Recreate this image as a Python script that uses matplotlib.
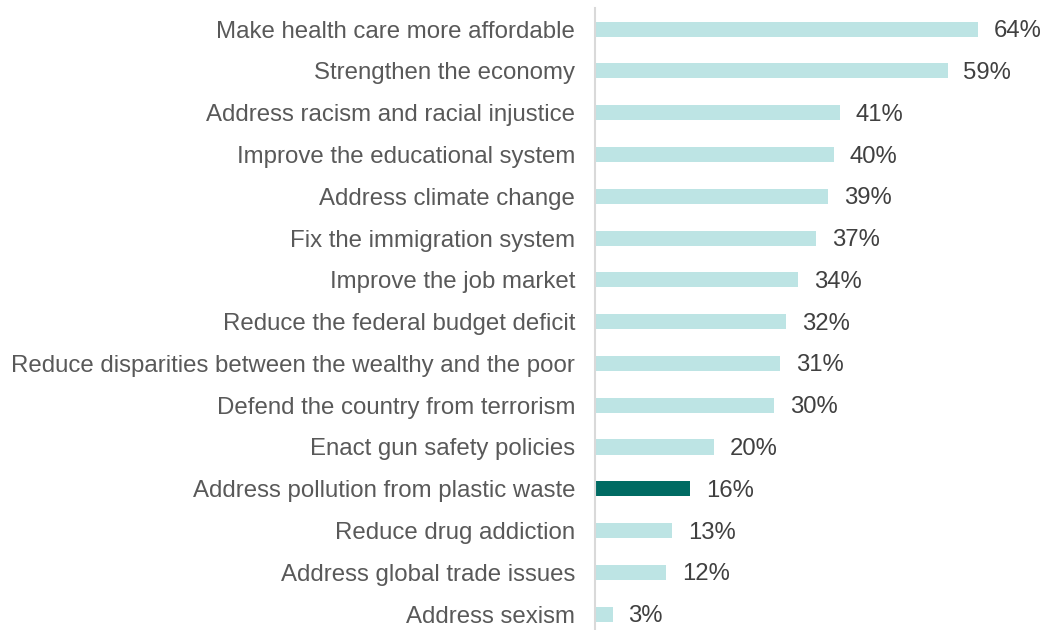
import matplotlib
matplotlib.use('Agg')
import matplotlib.pyplot as plt

# Prioridades (percentual)
categorias = [
    'Make health care more affordable',
    'Strengthen the economy',
    'Address racism and racial injustice',
    'Improve the educational system',
    'Address climate change',
    'Fix the immigration system',
    'Improve the job market',
    'Reduce the federal budget deficit',
    'Reduce disparities between the wealthy and the poor',
    'Defend the country from terrorism',
    'Enact gun safety policies',
    'Address pollution from plastic waste',
    'Reduce drug addiction',
    'Address global trade issues',
    'Address sexism',
]
valores = [64, 59, 41, 40, 39, 37, 34, 32, 31, 30, 20, 16, 13, 12, 3]
destaque = 'Address pollution from plastic waste'

cor_clara = '#BDE4E4'
cor_escura = '#006B63'

plt.rcParams['font.family'] = ['Liberation Sans', 'DejaVu Sans']

fig = plt.figure(figsize=(10.45, 6.3), dpi=100)
ax = fig.add_axes([0.569, -0.008, 0.401, 0.995])

y = list(range(len(categorias)))
cores = [cor_escura if c == destaque else cor_clara for c in categorias]
ax.barh(y, valores, height=0.36, color=cores)

for yi, v in zip(y, valores):
    ax.text(v + 2.6, yi + 0.05, f'{v}%', va='center', ha='left', fontsize=17.2, color='#404040')

ax.set_yticks(y)
ax.set_yticklabels(categorias, fontsize=17.3, color='#595959')
ax.tick_params(axis='y', length=0, pad=14)
ax.set_xticks([])
ax.set_xlim(0, 70)
ax.set_ylim(len(categorias) - 0.5, -0.5)

for s in ['top', 'right', 'bottom']:
    ax.spines[s].set_visible(False)
ax.spines['left'].set_color('#D9D9D9')
ax.spines['left'].set_linewidth(1.5)

fig.savefig('out.png', dpi=100)
